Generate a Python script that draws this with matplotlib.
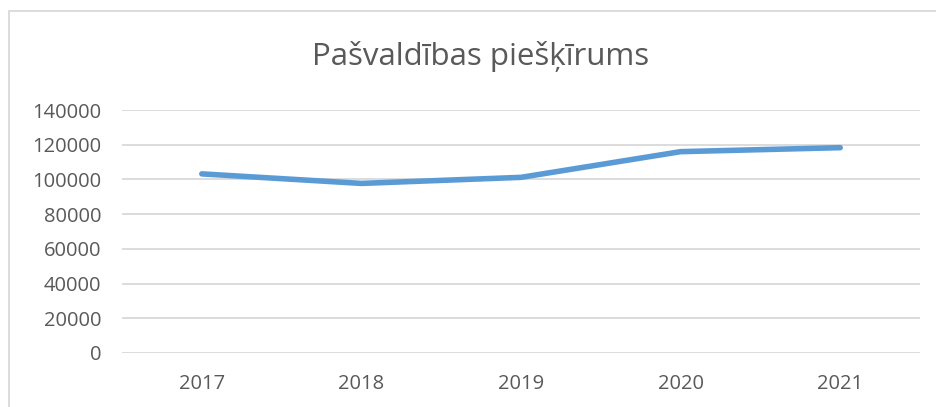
import matplotlib
matplotlib.use('Agg')
import matplotlib.pyplot as plt
from matplotlib.patches import Rectangle

plt.rcParams['font.family'] = ['Open Sans', 'DejaVu Sans']

years = ['2017', '2018', '2019', '2020', '2021']
amounts = [103200, 97700, 101200, 116000, 118300]
yticks = [0, 20000, 40000, 60000, 80000, 100000, 120000, 140000]

W, H = 936, 407
fig = plt.figure(figsize=(W/100, H/100), dpi=100)
ax = fig.add_axes([122/W, (H-353)/H, (920-122)/W, (353-110)/H])

#---outer chart frame (cut off at right and bottom)
fig.patches.append(Rectangle((9/W, -0.1), 1.2, (H-11)/H + 0.1, transform=fig.transFigure,
                             fill=False, edgecolor='#d9d9d9', linewidth=1.3))

x = range(len(years))
ax.plot(x, amounts, color='#5b9bd5', linewidth=4, solid_capstyle='round', solid_joinstyle='round', zorder=3)

ax.set_xlim(-0.5, len(years) - 0.5)
ax.set_ylim(0, 140000)
ax.set_yticks(yticks)
ax.set_yticklabels([str(v) for v in yticks])
ax.set_xticks(list(x))
ax.set_xticklabels(years)
ax.grid(axis='y', color='#d9d9d9', linewidth=1.3)
ax.set_axisbelow(True)
for s in ax.spines.values():
    s.set_visible(False)
ax.tick_params(length=0, labelsize=14.5, colors='#595959')
ax.tick_params(axis='y', pad=15)
ax.tick_params(axis='x', pad=15)

fig.text(481/W, (H-57)/H, 'Pašvaldības piešķīrums', ha='center', va='center',
         fontsize=22.5, color='#595959')

fig.savefig('out.png', dpi=100)
